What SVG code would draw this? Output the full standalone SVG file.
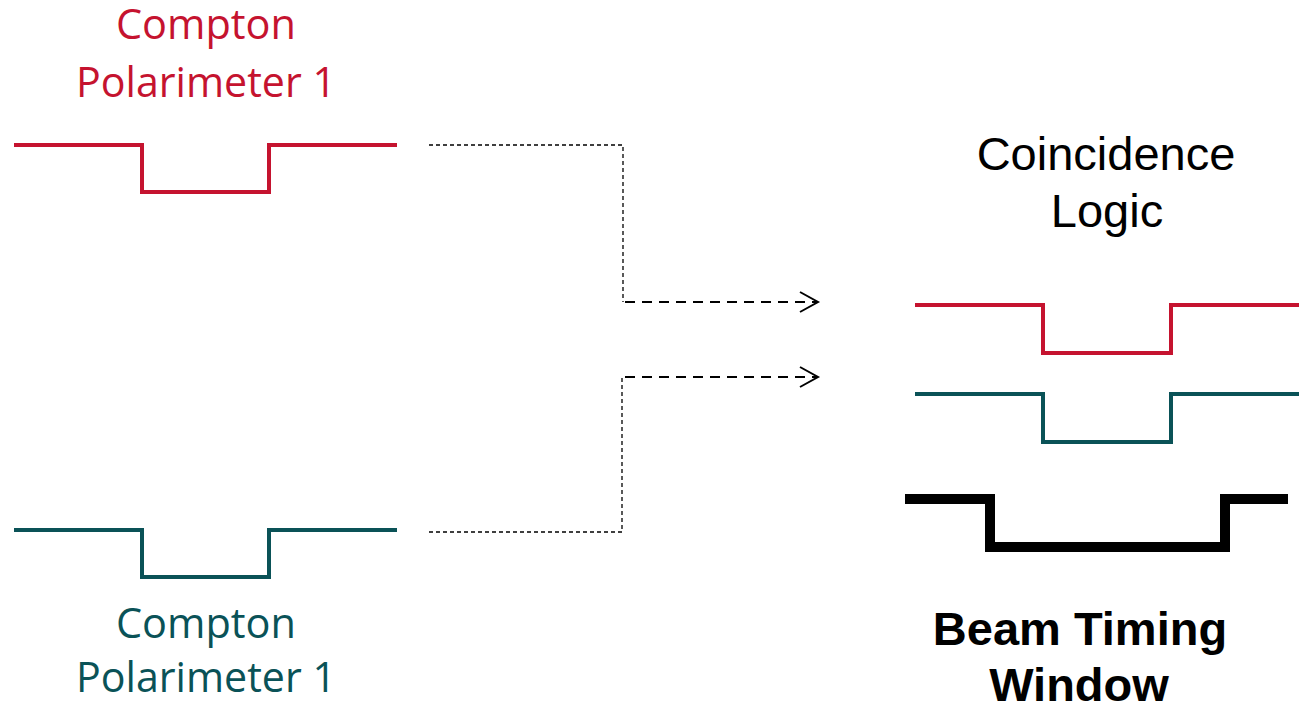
<svg xmlns="http://www.w3.org/2000/svg" width="1305" height="707" viewBox="0 0 1305 707">
<style>
.sig{fill:none;stroke-linejoin:miter;stroke-linecap:butt}
.red{stroke:#C5132F;stroke-width:4}
.teal{stroke:#0A5257;stroke-width:4}
.blk{stroke:#000;stroke-width:10}
.lbl{font-family:"Open Sans","Noto Sans",sans-serif;font-size:42px;text-anchor:middle}
.ar{font-family:"Liberation Sans",Arial,sans-serif;font-size:47px;text-anchor:middle}
.thin{fill:none;stroke:#000;stroke-width:1.3;stroke-dasharray:4 3}
.thick{fill:none;stroke:#000;stroke-width:2;stroke-dasharray:10 7}
</style>
<defs>
<marker id="chev" markerUnits="userSpaceOnUse" markerWidth="24" markerHeight="26" refX="19" refY="12" orient="auto">
<path d="M1,2 L19,12 L1,22" fill="none" stroke="#000" stroke-width="2"/>
</marker>
</defs>
<rect width="1305" height="707" fill="#fff"/>
<g id="pol1">
<polyline class="sig red" points="14,145 142,145 142,192 269,192 269,145 397,145"/>
<text class="lbl" fill="#C5132F" x="206" y="39" textLength="180" lengthAdjust="spacingAndGlyphs">Compton</text>
<text class="lbl" fill="#C5132F" x="206" y="97" textLength="260" lengthAdjust="spacingAndGlyphs">Polarimeter 1</text>
</g>
<g id="pol2">
<polyline class="sig teal" points="14,530 142,530 142,577 269,577 269,530 397,530"/>
<text class="lbl" fill="#0A5257" x="206" y="638" textLength="180" lengthAdjust="spacingAndGlyphs">Compton</text>
<text class="lbl" fill="#0A5257" x="206" y="692" textLength="260" lengthAdjust="spacingAndGlyphs">Polarimeter 1</text>
</g>
<g id="coincidence">
<text class="ar" x="1106" y="170">Coincidence</text>
<text class="ar" x="1107" y="227">Logic</text>
<polyline class="sig red" points="915,305 1043,305 1043,353 1171,353 1171,305 1299,305"/>
<polyline class="sig teal" points="915,394 1043,394 1043,442 1171,442 1171,394 1299,394"/>
</g>
<g id="beam">
<polyline class="sig blk" points="905,499 990,499 990,547 1225,547 1225,499 1288,499"/>
<text class="ar" x="1080" y="645" font-weight="bold">Beam Timing</text>
<text class="ar" x="1079" y="701" font-weight="bold">Window</text>
</g>
<g id="connectors">
<polyline class="thin" points="429,145 623,145 623,302"/>
<line class="thick" x1="625" y1="302" x2="818" y2="302" marker-end="url(#chev)"/>
<polyline class="thin" points="429,532 622,532 622,377"/>
<line class="thick" x1="625" y1="377" x2="818" y2="377" marker-end="url(#chev)"/>
</g>
</svg>
